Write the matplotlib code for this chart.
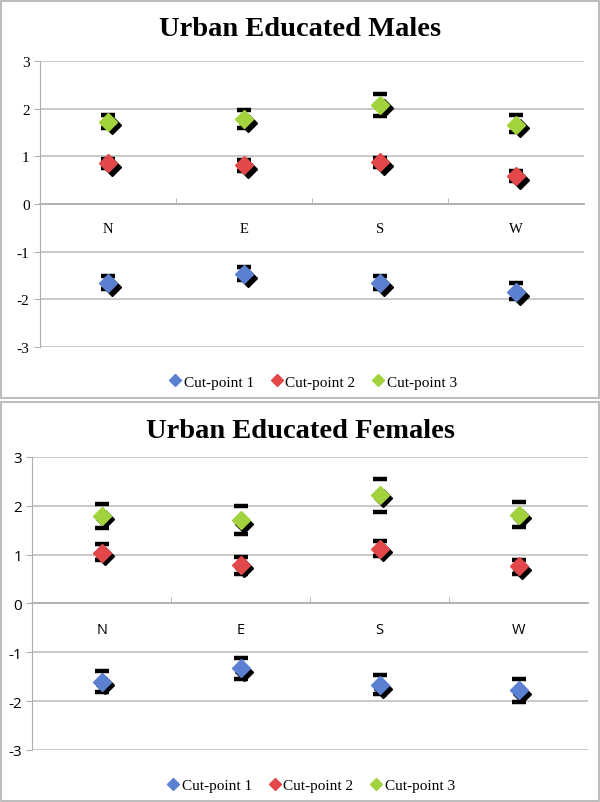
import numpy as np
import matplotlib
matplotlib.use("Agg")
import matplotlib.pyplot as plt
from matplotlib.transforms import offset_copy
from matplotlib.lines import Line2D
from matplotlib.patches import Rectangle

regions = ["N", "E", "S", "W"]
series_names = ["Cut-point 1", "Cut-point 2", "Cut-point 3"]
colors = ["#5b80d2", "#e2484a", "#a2d23c"]

# Urban Educated Males: point estimate, upper cap, lower cap
males_est = [[-1.66, -1.47, -1.66, -1.85],
             [0.86, 0.81, 0.875, 0.58],
             [1.73, 1.78, 2.09, 1.67]]
males_hi = [[-1.51, -1.31, -1.51, -1.66],
            [0.95, 0.93, 0.97, 0.70],
            [1.88, 1.98, 2.32, 1.87]]
males_lo = [[-1.78, -1.60, -1.79, -2.00],
            [0.76, 0.70, 0.77, 0.48],
            [1.59, 1.60, 1.85, 1.51]]

# Urban Educated Females
females_est = [[-1.60, -1.32, -1.67, -1.78],
               [1.04, 0.79, 1.12, 0.76],
               [1.80, 1.70, 2.23, 1.82]]
females_hi = [[-1.39, -1.12, -1.47, -1.54],
              [1.21, 0.96, 1.27, 0.89],
              [2.04, 1.99, 2.55, 2.08]]
females_lo = [[-1.82, -1.54, -1.86, -2.01],
              [0.89, 0.61, 0.98, 0.61],
              [1.55, 1.42, 1.88, 1.56]]

serif = "Liberation Serif"
sans = "Open Sans"
plt.rcParams["axes.unicode_minus"] = False

fig = plt.figure(figsize=(6, 8.03), dpi=100)

# panel frames
fig.patches.append(Rectangle((0.002, 0.503), 0.996, 0.495, transform=fig.transFigure,
                             fill=False, edgecolor="#b0b0b0", linewidth=1.2))
fig.patches.append(Rectangle((0.002, 0.001), 0.996, 0.497, transform=fig.transFigure,
                             fill=False, edgecolor="#b0b0b0", linewidth=1.2))


def draw_panel(ax, title, est, hi, lo, tick_font, title_y):
    x = np.arange(len(regions)) + 0.5
    ax.set_xlim(0, len(regions))
    ax.set_ylim(-3, 3)
    ax.set_yticks(range(-3, 4))
    for yv in range(-3, 4):
        ax.axhline(yv, color="#c4c4c4", linewidth=1.3, zorder=0)
    for side in ["top", "right"]:
        ax.spines[side].set_visible(False)
    ax.spines["left"].set_color("#b0b0b0")
    ax.spines["bottom"].set_position(("data", 0))
    ax.spines["bottom"].set_color("#b0b0b0")
    ax.spines["bottom"].set_linewidth(1.3)
    ax.set_xticks(x)
    ax.set_xticklabels(regions, fontfamily=tick_font, fontsize=10.5)
    ax.tick_params(axis="x", length=0, pad=13)
    ax.set_xticks(np.arange(1, len(regions)), minor=True)
    ax.tick_params(axis="x", which="minor", length=4, color="#b0b0b0", direction="in")
    ax.tick_params(axis="y", length=4, color="#b0b0b0", labelsize=11)
    for lab in ax.get_yticklabels():
        lab.set_fontfamily(tick_font)

    shadow = offset_copy(ax.transData, fig=fig, x=2.6, y=-2.6, units="points")
    for i in range(len(series_names)):
        ax.plot(x, hi[i], linestyle="none", marker="_", markersize=10,
                markeredgewidth=3.2, color="black", zorder=3)
        ax.plot(x, lo[i], linestyle="none", marker="_", markersize=10,
                markeredgewidth=3.2, color="black", zorder=3)
        ax.plot(x, est[i], linestyle="none", marker="D", markersize=9,
                color="black", transform=shadow, zorder=4)
        ax.plot(x, est[i], linestyle="none", marker="D", markersize=9,
                color=colors[i], markeredgecolor=colors[i], zorder=5)

    fig.text(0.5, title_y, title, ha="center", va="center", fontsize=20.5,
             fontweight="bold", fontfamily=serif)
    handles = [Line2D([], [], linestyle="none", marker="D", markersize=6,
                      color=c) for c in colors]
    ax.legend(handles, series_names, loc="upper center", bbox_to_anchor=(0.5, -0.05),
              ncol=3, frameon=False, prop={"family": serif, "size": 11},
              handletextpad=0.05, columnspacing=1.0, handlelength=1.0)


ax1 = fig.add_axes([0.0667, 0.5666, 0.907, 0.356])
draw_panel(ax1, "Urban Educated Males", males_est, males_hi, males_lo, serif, 1 - 30 / 803)

ax2 = fig.add_axes([0.054, 0.0648, 0.926, 0.3649])
draw_panel(ax2, "Urban Educated Females", females_est, females_hi, females_lo, sans, 1 - 432 / 803)

fig.savefig("out.png", dpi=100)
